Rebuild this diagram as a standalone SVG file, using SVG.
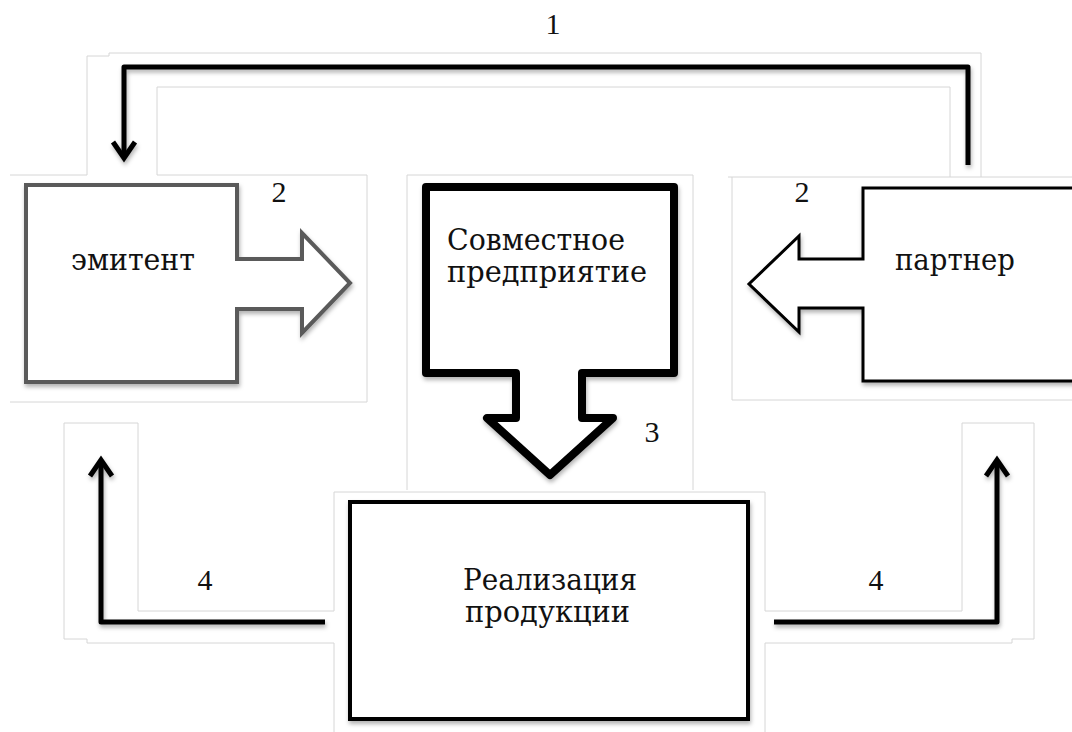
<svg xmlns="http://www.w3.org/2000/svg" width="1072" height="732" viewBox="0 0 1072 732">
<style>
.frame{fill:none;stroke:#d6d6d6;stroke-width:1}
.lbl{font-family:"DejaVu Serif","Liberation Serif",serif;font-size:29px;fill:#111}
.num{font-family:"Liberation Serif","Times New Roman",serif;font-size:30px;fill:#111;text-anchor:middle}
.conn{fill:none;stroke:#000;stroke-width:5;stroke-linejoin:round;stroke-linecap:butt}
.head{fill:none;stroke:#000;stroke-width:5;stroke-linejoin:miter;stroke-linecap:butt}
</style>
<defs>
<filter id="sh" x="-10%" y="-10%" width="120%" height="120%">
<feDropShadow dx="1" dy="3" stdDeviation="2" flood-color="#000" flood-opacity="0.3"/>
</filter>
</defs>
<rect width="1072" height="732" fill="#fff"/>
<g id="frames">
<polyline class="frame" points="87,175 87,56 109,56 109,53 981,53 981,177 950,177 950,87 157,87 157,175"/>
<polyline class="frame" points="10,175 87,175"/>
<polyline class="frame" points="157,175 367,175 367,402 10,402"/>
<polyline class="frame" points="407,490 407,175 693,175 693,490"/>
<polyline class="frame" points="728,177 950,177"/>
<polyline class="frame" points="981,177 1072,177"/>
<polyline class="frame" points="732,177 732,400 1072,400"/>
<polyline class="frame" points="334,611 334,492 765,492 765,611 962,611 962,423 1034,423 1034,639 1012,639 1012,643 765,643 765,732"/>
<polyline class="frame" points="334,732 334,643 87,643 87,639 64,639 64,423 138,423 138,611 334,611"/>
</g>
<g id="connectors" filter="url(#sh)">
<polyline class="conn" points="968,165 968,67 124,67 124,158"/>
<polyline class="head" points="113,142 124,158 135,142"/>
<polyline class="conn" points="325,622 101,622 101,460"/>
<polyline class="head" points="90,476 101,460 112,476"/>
<polyline class="conn" points="774,622 997,622 997,460"/>
<polyline class="head" points="986,476 997,460 1008,476"/>
</g>
<g id="emitent">
<path d="M26,185 H237 V259 H302 V233 L350,283 L302,333 V309 H237 V382 H26 Z" fill="#fff" stroke="#5a5a5a" stroke-width="4" filter="url(#sh)"/>
<text class="lbl" x="71" y="270" textLength="124" lengthAdjust="spacingAndGlyphs">эмитент</text>
</g>
<g id="sp">
<path d="M426,187 H674 V373 H582 V418 H613 L550,475 L487,418 H516 V373 H426 Z" fill="#fff" stroke="#000" stroke-width="8" stroke-linejoin="round" filter="url(#sh)"/>
<text class="lbl" x="447" y="250" textLength="178" lengthAdjust="spacingAndGlyphs">Совместное</text>
<text class="lbl" x="447" y="282" textLength="200" lengthAdjust="spacingAndGlyphs">предприятие</text>
</g>
<g id="partner">
<path d="M1080,188 H863 V259 H799 V236 L749,284 L799,332 V308 H863 V381 H1080" fill="#fff" stroke="#000" stroke-width="3" filter="url(#sh)"/>
<text class="lbl" x="895" y="270" textLength="120" lengthAdjust="spacingAndGlyphs">партнер</text>
</g>
<g id="realizatsiya">
<rect x="350" y="502" width="398" height="217" fill="#fff" stroke="#000" stroke-width="4" filter="url(#sh)"/>
<text class="lbl" x="463" y="590" textLength="174" lengthAdjust="spacingAndGlyphs">Реализация</text>
<text class="lbl" x="465" y="622" textLength="165" lengthAdjust="spacingAndGlyphs">продукции</text>
</g>
<g id="labels">
<text class="num" x="553" y="34">1</text>
<text class="num" x="279" y="202">2</text>
<text class="num" x="802" y="202">2</text>
<text class="num" x="652" y="442">3</text>
<text class="num" x="205" y="590">4</text>
<text class="num" x="876" y="590">4</text>
</g>
</svg>
